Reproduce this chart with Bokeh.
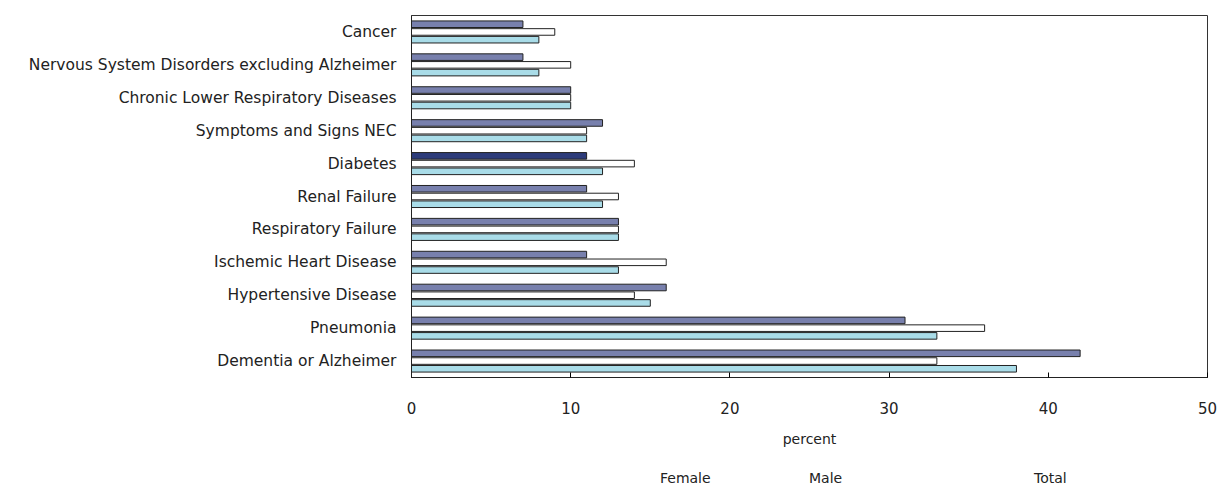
from bokeh.plotting import figure
from bokeh.models import ColumnDataSource, FactorRange, Legend, LegendItem
from bokeh.transform import dodge
from bokeh.layouts import column
from bokeh.embed import file_html
from bokeh.resources import INLINE

categories = ["Cancer", "Nervous System Disorders excluding Alzheimer",
              "Chronic Lower Respiratory Diseases", "Symptoms and Signs NEC",
              "Diabetes", "Renal Failure", "Respiratory Failure",
              "Ischemic Heart Disease", "Hypertensive Disease", "Pneumonia",
              "Dementia or Alzheimer"]
female = [7, 7, 10, 12, 11, 11, 13, 11, 16, 31, 42]
male = [9, 10, 10, 11, 14, 13, 13, 16, 14, 36, 33]
total = [8, 8, 10, 11, 12, 12, 13, 13, 15, 33, 38]
x_ticks = [0, 10, 20, 30, 40, 50]

FEMALE_C = "#7880ad"
FEMALE_HL = "#2c3b7a"
MALE_C = "#ffffff"
TOTAL_C = "#a9dce8"

female_colors = [FEMALE_HL if c == "Diabetes" else FEMALE_C for c in categories]

src = ColumnDataSource(dict(cat=categories, female=female, male=male, total=total,
                            fcol=female_colors))

font = "DejaVu Sans"
p = figure(frame_width=796, frame_height=362, output_backend="svg", toolbar_location=None,
           y_range=FactorRange(factors=list(reversed(categories)), range_padding=0),
           x_range=(0, 50))
p.min_border_left = 411
p.min_border_right = 12
p.min_border_top = 15
p.min_border_bottom = 0

off = 0.235
h = 0.2
p.hbar(y=dodge("cat", off, range=p.y_range), right="female", left=0, height=h,
       source=src, fill_color="fcol", line_color="#222222", line_width=1)
p.hbar(y=dodge("cat", 0, range=p.y_range), right="male", left=0, height=h,
       source=src, fill_color=MALE_C, line_color="#222222", line_width=1)
p.hbar(y=dodge("cat", -off, range=p.y_range), right="total", left=0, height=h,
       source=src, fill_color=TOTAL_C, line_color="#222222", line_width=1)

p.xgrid.grid_line_color = None
p.ygrid.grid_line_color = None
p.outline_line_color = "#333333"
p.background_fill_color = "white"
p.border_fill_color = "white"

p.xaxis.ticker = x_ticks
p.xaxis.axis_label = "percent"
p.xaxis.axis_label_text_font = font
p.xaxis.axis_label_text_font_style = "normal"
p.xaxis.axis_label_text_font_size = "14px"
p.xaxis.axis_label_text_color = "#222222"
p.xaxis.axis_label_standoff = 14
p.xaxis.major_label_text_font = font
p.xaxis.major_label_text_font_size = "15px"
p.xaxis.major_label_text_color = "#222222"
p.xaxis.major_label_standoff = 24
p.xaxis.major_tick_in = 5
p.xaxis.major_tick_out = 0
p.xaxis.minor_tick_line_color = None
p.xaxis.axis_line_color = "#222222"

p.yaxis.major_label_text_font = font
p.yaxis.major_label_text_font_size = "15.5px"
p.yaxis.major_label_text_color = "#222222"
p.yaxis.major_tick_line_color = None
p.yaxis.major_label_standoff = 9
p.yaxis.axis_line_color = "#222222"

# legend strip below the chart (legend-only renderers with no data)
p2 = figure(width=1219, height=40, output_backend="svg", toolbar_location=None,
            x_range=(0, 50), y_range=(0, 1),
            x_axis_location=None, y_axis_location=None)
p2.min_border_left = 0
p2.min_border_right = 0
p2.min_border_top = 0
p2.min_border_bottom = 0
p2.outline_line_color = None
p2.xgrid.grid_line_color = None
p2.ygrid.grid_line_color = None
empty = ColumnDataSource(dict(y=[], right=[]))
lf = p2.hbar(y="y", right="right", left=0, height=h, source=empty,
             fill_color=FEMALE_C, line_color="#222222", line_width=1)
lm = p2.hbar(y="y", right="right", left=0, height=h, source=empty,
             fill_color=MALE_C, line_color="#222222", line_width=1)
lt = p2.hbar(y="y", right="right", left=0, height=h, source=empty,
             fill_color=TOTAL_C, line_color="#222222", line_width=1)

for label, r, xpos in [("Female", lf, 237), ("Male", lm, 386), ("Total", lt, 611)]:
    lg = Legend(items=[LegendItem(label=label, renderers=[r])],
                location=(xpos, 3), orientation="horizontal",
                glyph_width=9, glyph_height=9, label_standoff=3,
                padding=0, margin=0, border_line_color=None,
                background_fill_alpha=0,
                label_text_font=font, label_text_font_size="14px",
                label_text_color="#222222")
    p2.add_layout(lg, "center")

layout = column(p, p2, spacing=0)
open("out.html", "w").write(file_html(layout, INLINE))
